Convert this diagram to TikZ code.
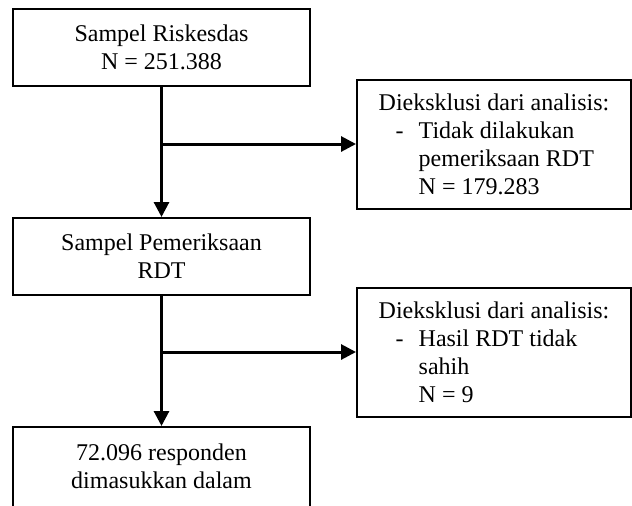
\documentclass[tikz,border=0pt]{standalone}
\usepackage{fontspec}
\setmainfont{Liberation Serif}
\usetikzlibrary{positioning,arrows.meta}

\newcommand{\tandastrip}{\makebox[20pt][l]{\hspace*{8.5pt}-}}
\newcommand{\inden}{\hspace*{20pt}}

\begin{document}
\begin{tikzpicture}[x=1pt, y=1pt, node distance=65pt,
	every node/.style={font=\fontsize{12}{14}\selectfont},
	kotak/.style={draw, line width=1pt, align=center, minimum width=148.5pt, minimum height=38.5pt, inner sep=0pt},
	kotakex/.style={draw, line width=1pt, align=left, minimum width=137pt, minimum height=64.5pt, inner sep=0pt},
	panah/.style={line width=1.5pt, -{Triangle[length=7.5pt,width=7.5pt]}}]
	\useasboundingbox (0,0) rectangle (316,-252.5);

	\node (sampel) [kotak] at (80.75,-23.75) {Sampel Riskesdas\\N = 251.388};
	\node (rdt) [kotak, below=of sampel] {Sampel Pemeriksaan\\RDT};
	\node (responden) [kotak, below=of rdt, minimum height=0pt, inner ysep=8.5pt] {72.096 responden\\dimasukkan dalam\\\phantom{x}};

	\node (keluar1) [kotakex] at (247,-72) {Dieksklusi dari analisis:\\\tandastrip Tidak dilakukan\\\inden pemeriksaan RDT\\\inden N = 179.283};
	\node (keluar2) [kotakex] at (247,-176) {Dieksklusi dari analisis:\\\tandastrip Hasil RDT tidak\\\inden sahih\\\inden N = 9};

	\coordinate (cabang1) at (sampel.south |- keluar1.west);
	\coordinate (cabang2) at (rdt.south |- keluar2.west);

	\draw[panah] (sampel) -- (rdt);
	\draw[panah] (cabang1) -- (keluar1);
	\draw[panah] (rdt) -- (responden);
	\draw[panah] (cabang2) -- (keluar2);
\end{tikzpicture}
\end{document}
